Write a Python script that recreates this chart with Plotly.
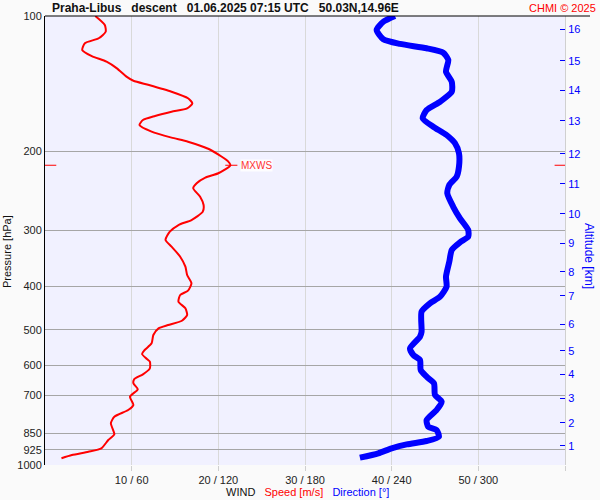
import math
import plotly.graph_objects as go

# ---- data ----
speed_p = [100, 104.7, 108.4, 112.1, 115.0, 119.1, 122.8, 126.4, 130.8, 136.5, 139.4, 142.5, 147.5, 152.5,
           156.5, 160.6, 163.4, 167.0, 170.5, 174.9, 181.0, 186.6, 190.5, 197.8, 205.8, 210.5, 215.0, 224.0,
           229.1, 235.8, 241.9, 252.6, 263.6, 272.9, 284.7, 292.1, 302.3, 315.4, 326.4, 343.6, 361.7, 377.4,
           393.8, 409.0, 418.2, 432.8, 447.7, 463.4, 477.2, 487.8, 496.2, 513.5, 535.8, 554.5, 566.0, 581.6,
           588.8, 609.1, 628.1, 643.5, 657.7, 678.3, 704.5, 735.2, 754.2, 780.6, 807.5, 854.4, 879.8, 918.1,
           934.3, 950.1, 966.3]
speed_ms = [5.8, 6.9, 7.0, 6.2, 4.6, 4.3, 5.4, 7.1, 8.3, 9.4, 10.2, 12.0, 14.6, 16.5, 17.0, 16.4, 14.6, 12.7,
            11.3, 10.9, 12.3, 14.6, 16.5, 18.9, 20.4, 21.1, 21.4, 20.0, 18.5, 17.5, 17.1, 17.9, 18.3, 18.2,
            16.9, 15.4, 14.4, 13.9, 14.6, 15.6, 16.2, 16.4, 16.9, 16.5, 15.6, 15.4, 16.2, 16.4, 15.8, 14.2,
            13.1, 12.5, 12.3, 11.5, 11.2, 11.8, 12.1, 12.1, 11.3, 10.3, 10.2, 10.7, 9.8, 10.2, 9.6, 8.0,
            7.6, 8.0, 7.3, 6.5, 5.0, 3.1, 1.9]

dir_p = [100, 103.0, 107.4, 112.7, 115.4, 118.0, 120.7, 125.3, 133.1, 140.1, 147.5, 155.2, 162.0, 169.0,
         176.4, 184.1, 192.0, 202.2, 216.6, 228.0, 237.9, 248.3, 266.0, 282.2, 299.6, 310.1, 319.2, 332.0,
         352.5, 380.6, 400.7, 421.9, 436.4, 455.6, 504.9, 518.0, 549.7, 568.9, 583.7, 614.3, 635.9, 657.7,
         698.4, 722.8, 754.2, 794.0, 821.8, 835.8, 865.0, 884.3, 899.5, 918.1, 941.7, 963.1]
dir_deg = [242.3, 234.2, 229.6, 234.2, 245.8, 264.2, 275.7, 279.2, 277.6, 281.6, 281.6, 273.5, 264.2, 261.5,
           268.8, 278.0, 283.8, 286.6, 286.6, 285.0, 279.9, 278.5, 282.6, 287.3, 293.0, 293.0, 287.3, 281.6,
           279.9, 277.6, 278.0, 273.5, 266.5, 260.7, 260.7, 259.6, 252.7, 255.0, 259.6, 260.1, 264.2, 269.3,
           270.0, 274.6, 271.1, 264.2, 265.3, 271.1, 272.7, 264.2, 250.4, 240.0, 230.7, 218.0]

pressure_ticks = [100, 200, 300, 400, 500, 600, 700, 850, 925, 1000]
wind_ticks = [10, 20, 30, 40, 50, 60]
wind_tick_labels = ["10 / 60", "20 / 120", "30 / 180", "40 / 240", "50 / 300", ""]
alt_km = [1, 2, 3, 4, 5, 6, 7, 8, 9, 10, 11, 12, 13, 14, 15, 16]
alt_pressure = [905.8, 805.1, 710.1, 628.1, 556.5, 485.3, 420.3, 371.1, 320.3, 275.6, 236.6, 202.9,
                171.3, 146.4, 125.8, 106.9]

# ---- figure ----
X_MAX = 60
DEG_PER_MS = 6
FONT = "Liberation Sans, Arial, sans-serif"

fig = go.Figure()
fig.add_trace(go.Scatter(x=dir_deg, y=dir_p, mode="lines", xaxis="x2", yaxis="y2",
                         line=dict(color="#0000FF", width=6, shape="spline", smoothing=0.6),
                         hoverinfo="skip"))
fig.add_trace(go.Scatter(x=speed_ms, y=speed_p, mode="lines",
                         line=dict(color="#FF0000", width=2, shape="spline", smoothing=0.6),
                         hoverinfo="skip"))

# maximum wind marker
imax = max(range(len(speed_ms)), key=lambda i: speed_ms[i])
p_max, s_max = speed_p[imax], speed_ms[imax]
for xs in ([0, 1.3], [s_max - 0.6, s_max + 0.8], [58.8, X_MAX]):
    fig.add_trace(go.Scatter(x=xs, y=[p_max, p_max], mode="lines",
                             line=dict(color="#FF0000", width=1), hoverinfo="skip"))
fig.add_annotation(x=s_max + 1.1, y=math.log10(p_max), xref="x", yref="y", text="MXWS",
                   showarrow=False, xanchor="left", yanchor="middle",
                   font=dict(family=FONT, size=10, color="#FF3333"),
                   bgcolor="rgba(255,255,255,0.85)", borderpad=0)

fig.update_layout(
    width=600, height=500,
    margin=dict(l=45, r=35, t=16, b=35, pad=0, autoexpand=False),
    paper_bgcolor="#FAFAFA", plot_bgcolor="#F1F1FF",
    showlegend=False,
    font=dict(family=FONT, size=11, color="#222222"),
    xaxis=dict(range=[0, X_MAX], tickvals=wind_ticks, ticktext=wind_tick_labels,
               showgrid=True, gridcolor="#D9D9D9", gridwidth=1, zeroline=False,
               ticks="outside", ticklen=5, tickcolor="#CFCFCF", showline=False,
               automargin=False, tickfont=dict(size=11, color="#222222")),
    xaxis2=dict(range=[0, X_MAX * DEG_PER_MS], overlaying="x", anchor="y2", visible=False),
    yaxis=dict(type="log", range=[3, 2], tickvals=pressure_ticks,
               ticktext=[str(v) for v in pressure_ticks],
               showgrid=True, gridcolor="#A6A6A6", gridwidth=1, zeroline=False,
               showline=True, linecolor="#000000", linewidth=1, ticks="",
               automargin=False, tickfont=dict(size=11, color="#222222")),
    yaxis2=dict(type="log", range=[3, 2], overlaying="y", side="right", anchor="x",
                tickvals=alt_pressure, ticktext=[str(v) for v in alt_km],
                ticks="inside", ticklen=5, tickcolor="#0000FF", tickwidth=1,
                showgrid=False, zeroline=False, showline=True, linecolor="#D0D0D0",
                automargin=False, tickfont=dict(size=11, color="#0000FF")),
)

# top border line
fig.add_shape(type="line", xref="paper", yref="paper", x0=0, x1=(590 - 45) / 520, y0=1, y1=1,
              line=dict(color="#000000", width=1))

# titles / texts
sp = "\u00a0"
fig.add_annotation(xref="paper", yref="paper", x=(50 - 45) / 520, y=1 + 8 / 449,
                   xanchor="left", yanchor="middle", showarrow=False,
                   text=f"<b>Praha-Libus{sp*3}descent{sp*3}01.06.2025 07:15 UTC{sp*3}50.03N,14.96E</b>",
                   font=dict(family=FONT, size=12, color="#111111"))
fig.add_annotation(xref="paper", yref="paper", x=(598 - 45) / 520, y=1 + 8 / 449,
                   xanchor="right", yanchor="middle", showarrow=False,
                   text="CHMI © 2025", font=dict(family=FONT, size=11, color="#FF0000"))
fig.add_annotation(xref="paper", yref="paper", x=(307 - 45) / 520, y=-(492 - 465) / 449,
                   xanchor="center", yanchor="middle", showarrow=False,
                   text=f"WIND{sp*3}<span style='color:#FF0000'>Speed [m/s]</span>{sp*3}"
                        f"<span style='color:#0000FF'>Direction [°]</span>",
                   font=dict(family=FONT, size=11, color="#111111"))
fig.add_annotation(xref="paper", yref="paper", x=(7 - 45) / 520, y=(465 - 252) / 449,
                   xanchor="center", yanchor="middle", showarrow=False, textangle=-90,
                   text="Pressure [hPa]", font=dict(family=FONT, size=11, color="#111111"))
fig.add_annotation(xref="paper", yref="paper", x=(589 - 45) / 520, y=(465 - 256) / 449,
                   xanchor="center", yanchor="middle", showarrow=False, textangle=90,
                   text="Altitude [km]", font=dict(family=FONT, size=12, color="#0000FF"))

fig.write_html("out.html", config={"displayModeBar": False},
               post_script="document.body.style.margin='0';document.body.style.overflow='hidden';")
